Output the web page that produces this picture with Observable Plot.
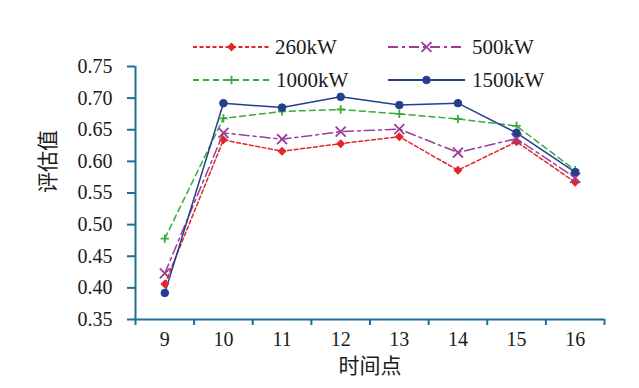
<!DOCTYPE html>
<html>
<head>
<meta charset="utf-8">
<script src="https://cdn.jsdelivr.net/npm/d3@7"></script>
<script src="https://cdn.jsdelivr.net/npm/@observablehq/plot@0.6"></script>
<style>
  html, body { margin: 0; padding: 0; background: #fff; }
  #chart { width: 639px; height: 388px; }
</style>
</head>
<body>
<div id="chart"></div>
<script>
// ---- data ----
const times = [9, 10, 11, 12, 13, 14, 15, 16];
const s260  = [0.406, 0.634, 0.616, 0.628, 0.639, 0.586, 0.631, 0.567];
const s500  = [0.423, 0.645, 0.635, 0.647, 0.651, 0.614, 0.636, 0.574];
const s1000 = [0.478, 0.668, 0.679, 0.682, 0.675, 0.667, 0.656, 0.586];
const s1500 = [0.392, 0.692, 0.685, 0.702, 0.689, 0.692, 0.645, 0.583];
const seriesNames = ["260kW", "500kW", "1000kW", "1500kW"];
const yTicks = [0.35, 0.40, 0.45, 0.50, 0.55, 0.60, 0.65, 0.70, 0.75];
const xLabel = "时间点";
const yLabel = "评估值";

// ---- styles ----
const axisColor = "#1f6e96";
const textColor = "#1a1a1a";
const font = "Liberation Serif, Times New Roman, Tinos, DejaVu Serif, Noto Sans CJK SC, serif";
const styles = [
  {stroke: "#e0262b", dash: "4,2.5", symbol: "square", rotate: 45, r: 3.0, fill: "#e0262b"},
  {stroke: "#9b3d9b", dash: "10,4,3,4", symbol: "times", rotate: 0, r: 4.6, fill: "none"},
  {stroke: "#3aaa3a", dash: "6,4", symbol: "plus", rotate: 0, r: 2.8, fill: "none"},
  {stroke: "#233f8f", dash: null, symbol: "circle", rotate: 0, r: 3.8, fill: "#233f8f"}
];
const seriesValues = [s260, s500, s1000, s1500];

const bounds = d3.range(times[0] - 0.5, times[times.length - 1] + 1, 1);

const marks = [];
seriesValues.forEach((vals, k) => {
  const st = styles[k];
  const data = times.map((t, i) => ({t, v: vals[i]}));
  marks.push(Plot.line(data, {
    x: "t", y: "v", stroke: st.stroke, strokeWidth: 1.5,
    strokeDasharray: st.dash ?? undefined
  }));
});
seriesValues.forEach((vals, k) => {
  const st = styles[k];
  const data = times.map((t, i) => ({t, v: vals[i]}));
  marks.push(Plot.dot(data, {
    x: "t", y: "v", symbol: st.symbol, r: st.r, rotate: st.rotate,
    fill: st.fill, stroke: st.stroke, strokeWidth: st.fill === "none" ? 1.8 : 1
  }));
});

const chart = Plot.plot({
  width: 639,
  height: 388,
  marginLeft: 135,
  marginRight: 35,
  marginTop: 66,
  marginBottom: 69,
  style: {fontFamily: font, background: "#fff", overflow: "visible"},
  x: {type: "linear", domain: [bounds[0], bounds[bounds.length - 1]], axis: null},
  y: {domain: [yTicks[0], yTicks[yTicks.length - 1]], axis: null},
  marks: [
    Plot.axisY({ticks: yTicks, tickFormat: d => d.toFixed(2), tickSize: 8, tickPadding: 15,
      fontSize: 20, stroke: axisColor, strokeWidth: 2, fill: textColor, label: null}),
    Plot.axisX({ticks: bounds, tickFormat: () => "", tickSize: 6, stroke: axisColor,
      strokeWidth: 2, label: null}),
    Plot.axisX({ticks: times, tickFormat: d => String(d), tickSize: 0, tickPadding: 12,
      fontSize: 20, fill: textColor, label: null}),
    Plot.ruleX([bounds[0]], {stroke: axisColor, strokeWidth: 2}),
    Plot.ruleY([yTicks[0]], {stroke: axisColor, strokeWidth: 2}),
    Plot.text([xLabel], {frameAnchor: "bottom", lineAnchor: "middle", dy: 47, fontSize: 21, fill: textColor}),
    Plot.text([yLabel], {frameAnchor: "left", lineAnchor: "middle", dx: -87, rotate: -90, fontSize: 21, fill: textColor}),
    ...marks
  ]
});
document.getElementById("chart").appendChild(chart);

// ---- legend (drawn inside the svg) ----
const svg = d3.select(chart);
const legendPos = [
  {x0: 193, x1: 270, y: 47, tx: 275},
  {x0: 388, x1: 465, y: 47, tx: 472},
  {x0: 193, x1: 270, y: 80, tx: 276},
  {x0: 388, x1: 465, y: 80, tx: 472}
];
const symMap = {square: d3.symbolSquare, times: d3.symbolTimes, plus: d3.symbolPlus, circle: d3.symbolCircle};
const lg = svg.append("g");
seriesNames.forEach((name, k) => {
  const p = legendPos[k], st = styles[k];
  lg.append("line").attr("x1", p.x0).attr("x2", p.x1).attr("y1", p.y).attr("y2", p.y)
    .attr("stroke", st.stroke).attr("stroke-width", 1.8)
    .attr("stroke-dasharray", st.dash);
  lg.append("path")
    .attr("transform", `translate(${(p.x0 + p.x1) / 2},${p.y}) rotate(${st.rotate})`)
    .attr("d", d3.symbol(symMap[st.symbol], Math.PI * st.r * st.r)())
    .attr("fill", st.fill).attr("stroke", st.stroke)
    .attr("stroke-width", st.fill === "none" ? 1.8 : 1);
  lg.append("text").attr("x", p.tx).attr("y", p.y + 7)
    .attr("text-anchor", "start")
    .attr("font-size", 21).attr("font-family", font).attr("fill", textColor)
    .text(name);
});
</script>
</body>
</html>
